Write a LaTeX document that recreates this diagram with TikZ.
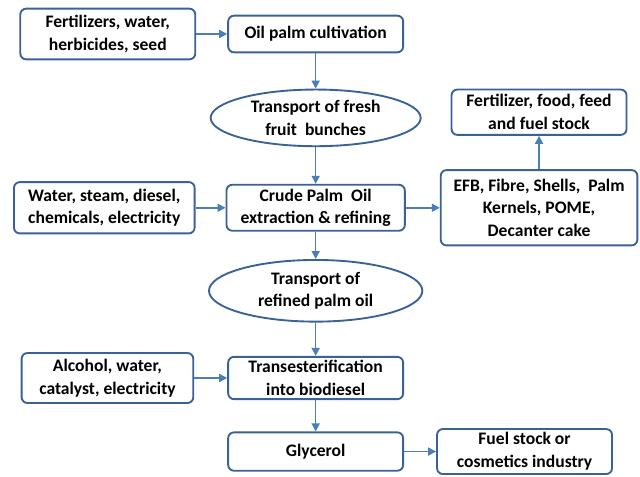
\documentclass[tikz,border=0pt]{standalone}
\usepackage{fontspec}
\setmainfont{Carlito}
\usepackage{tikz}
\usetikzlibrary{arrows.meta,positioning,shapes.geometric}

\definecolor{boxblue}{HTML}{3A6296}
\definecolor{arrowblue}{HTML}{4A7EBB}

\begin{document}
\begin{tikzpicture}[
  node distance=1cm,
  block/.style={draw=boxblue, line width=1.6pt, rounded corners=5pt, align=center,
    minimum width=5.25cm, minimum height=1.2cm, fill=white, inner sep=1pt,
    font=\fontsize{15}{19.5}\selectfont\bfseries},
  transport/.style={ellipse, draw=boxblue, line width=1.6pt, align=center,
    minimum width=6.3cm, minimum height=1.7cm, inner sep=0pt,
    font=\fontsize{15}{19.5}\selectfont\bfseries},
  arrow/.style={-{Triangle[length=2.4mm,width=2.4mm]}, line width=1.4pt, draw=arrowblue, color=arrowblue}
]
\useasboundingbox (0,0) rectangle (19.2,-14.28);
% main chain
\node[block, minimum height=1.1cm] (cultivation) at (9.47,-1.02) {Oil palm cultivation};
\node[transport, below=1.06cm of cultivation] (ffb) {Transport of fresh\\fruit~ bunches};
\node[block, minimum width=5.35cm, minimum height=1.38cm, below=1.1cm of ffb] (cpo) {Crude Palm~ Oil\\extraction \& refining};
\node[transport, minimum width=6.4cm, minimum height=1.85cm, below=0.82cm of cpo] (rpo) {Transport of\\refined palm oil};
\node[block, minimum height=1.27cm, below=1.0cm of rpo] (trans) {Transesterification\\into biodiesel};
\node[block, minimum height=1.15cm, below=0.94cm of trans] (glycerol) {Glycerol};
% inputs and outputs
\node[block, minimum height=1.52cm, left=0.93cm of cultivation] (seed) {Fertilizers, water,\\herbicides, seed};
\node[block, minimum width=5.42cm, minimum height=1.54cm, left=0.9cm of cpo] (water) {Water, steam, diesel,\\chemicals, electricity};
\node[block, minimum width=5.9cm, minimum height=2.26cm, right=1.02cm of cpo] (residues) {EFB, Fibre, Shells,~ Palm\\Kernels, POME,\\Decanter cake};
\node[block, minimum height=1.36cm, above=1.0cm of residues] (uses) {Fertilizer, food, feed\\and fuel stock};
\node[block, minimum width=5.15cm, minimum height=1.5cm, left=0.99cm of trans] (alcohol) {Alcohol, water,\\catalyst, electricity};
\node[block, minimum height=1.35cm, right=0.96cm of glycerol] (fuel) {Fuel stock or\\cosmetics industry};
\draw[arrow] (seed) -- (cultivation);
\draw[arrow] (cultivation) -- (ffb);
\draw[arrow] (ffb) -- (cpo);
\draw[arrow] (water) -- (cpo);
\draw[arrow] (cpo) -- (residues);
\draw[arrow] (residues) -- (uses);
\draw[arrow] (cpo) -- (rpo);
\draw[arrow] (rpo) -- (trans);
\draw[arrow] (alcohol) -- (trans);
\draw[arrow] (trans) -- (glycerol);
\draw[arrow] (glycerol) -- (fuel);
\end{tikzpicture}
\end{document}
